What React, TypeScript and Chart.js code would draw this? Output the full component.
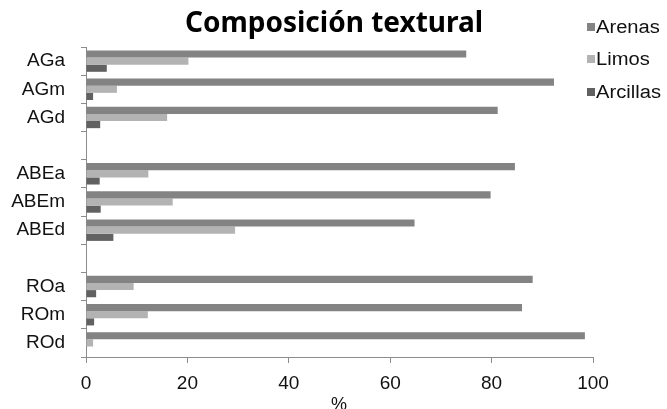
import React, { useEffect, useRef } from 'react';
import { Chart, registerables } from 'chart.js';

Chart.register(...registerables);

const categories = ['AGa', 'AGm', 'AGd', '', 'ABEa', 'ABEm', 'ABEd', '', 'ROa', 'ROm', 'ROd'];
const arenas = [75.0, 92.3, 81.2, null, 84.6, 79.8, 64.8, null, 88.1, 86.0, 98.4];
const limos = [20.2, 6.1, 16.0, null, 12.3, 17.1, 29.4, null, 9.4, 12.2, 1.4];
const arcillas = [4.1, 1.4, 2.8, null, 2.7, 2.9, 5.4, null, 2.0, 1.6, 0];
const xTickValues = [0, 20, 40, 60, 80, 100];
const seriesNames = ['Arenas', 'Limos', 'Arcillas'];
const seriesColors = ['#838383', '#b3b3b3', '#616161'];
const titleText = 'Composición textural';
const xAxisTitle = '%';

const textPlugin = {
  id: 'customText',
  afterDraw(chart: any) {
    const ctx = chart.ctx;
    ctx.save();
    // title
    ctx.fillStyle = '#000';
    ctx.font = 'bold 28px "Noto Sans", "Open Sans", sans-serif';
    ctx.textAlign = 'center';
    ctx.textBaseline = 'middle';
    ctx.fillText(titleText, 334, 24);
    // x axis title
    ctx.font = '18px "Liberation Sans", Arial, sans-serif';
    ctx.fillStyle = '#111';
    ctx.fillText(xAxisTitle, 339, 405);
    // legend
    const x0 = 587;
    const ys = [27, 59, 92];
    seriesNames.forEach((name, i) => {
      ctx.fillStyle = seriesColors[i];
      ctx.fillRect(x0, ys[i] - 4, 8, 8);
      ctx.save();
      ctx.translate(x0 + 9, ys[i]);
      ctx.scale(1.12, 1);
      ctx.fillStyle = '#111';
      ctx.font = '18px "Liberation Sans", Arial, sans-serif';
      ctx.textBaseline = 'middle';
      ctx.textAlign = 'left';
      ctx.fillText(name, 0, 1);
      ctx.restore();
    });
    ctx.restore();
  },
};

export default function App() {
  const ref = useRef<HTMLCanvasElement | null>(null);
  useEffect(() => {
    if (!ref.current) return;
    const chart = new Chart(ref.current, {
      type: 'bar',
      data: {
        labels: categories,
        datasets: [
          { label: seriesNames[0], data: arenas, backgroundColor: seriesColors[0] },
          { label: seriesNames[1], data: limos, backgroundColor: seriesColors[1] },
          { label: seriesNames[2], data: arcillas, backgroundColor: seriesColors[2] },
        ],
      },
      options: {
        indexAxis: 'y',
        animation: false,
        responsive: false,
        maintainAspectRatio: false,
        datasets: { bar: { categoryPercentage: 0.76, barPercentage: 1.0 } },
        layout: { padding: { left: 0, right: 74, top: 47, bottom: 0 } },
        plugins: {
          legend: { display: false },
          tooltip: { enabled: false },
          title: { display: false },
        },
        scales: {
          x: {
            type: 'linear',
            min: 0,
            max: 100,
            afterBuildTicks: (scale: any) => {
              scale.ticks = xTickValues.map((v) => ({ value: v }));
            },
            afterFit: (scale: any) => {
              scale.height = 52;
            },
            grid: {
              drawOnChartArea: false,
              drawTicks: true,
              tickLength: 6,
              color: '#8c8c8c',
            },
            border: { display: true, color: '#8c8c8c' },
            ticks: {
              color: '#111',
              padding: 9,
              font: { family: '"Liberation Sans", Arial, sans-serif', size: 19 },
            },
          },
          y: {
            type: 'category',
            afterFit: (scale: any) => {
              scale.width = 86;
            },
            grid: {
              offset: true,
              drawOnChartArea: false,
              drawTicks: true,
              tickLength: 5,
              color: '#8c8c8c',
            },
            border: { display: true, color: '#8c8c8c' },
            ticks: {
              color: '#111',
              padding: 16,
              autoSkip: false,
              font: { family: '"Liberation Sans", Arial, sans-serif', size: 19 },
            },
          },
        },
      },
      plugins: [textPlugin],
    } as any);
    return () => chart.destroy();
  }, []);
  return (
    <div style={{ position: 'absolute', left: 0, top: 0, width: 667, height: 409, background: '#fff' }}>
      <canvas ref={ref} width={667} height={409} style={{ width: 667, height: 409, display: 'block' }} />
    </div>
  );
}
